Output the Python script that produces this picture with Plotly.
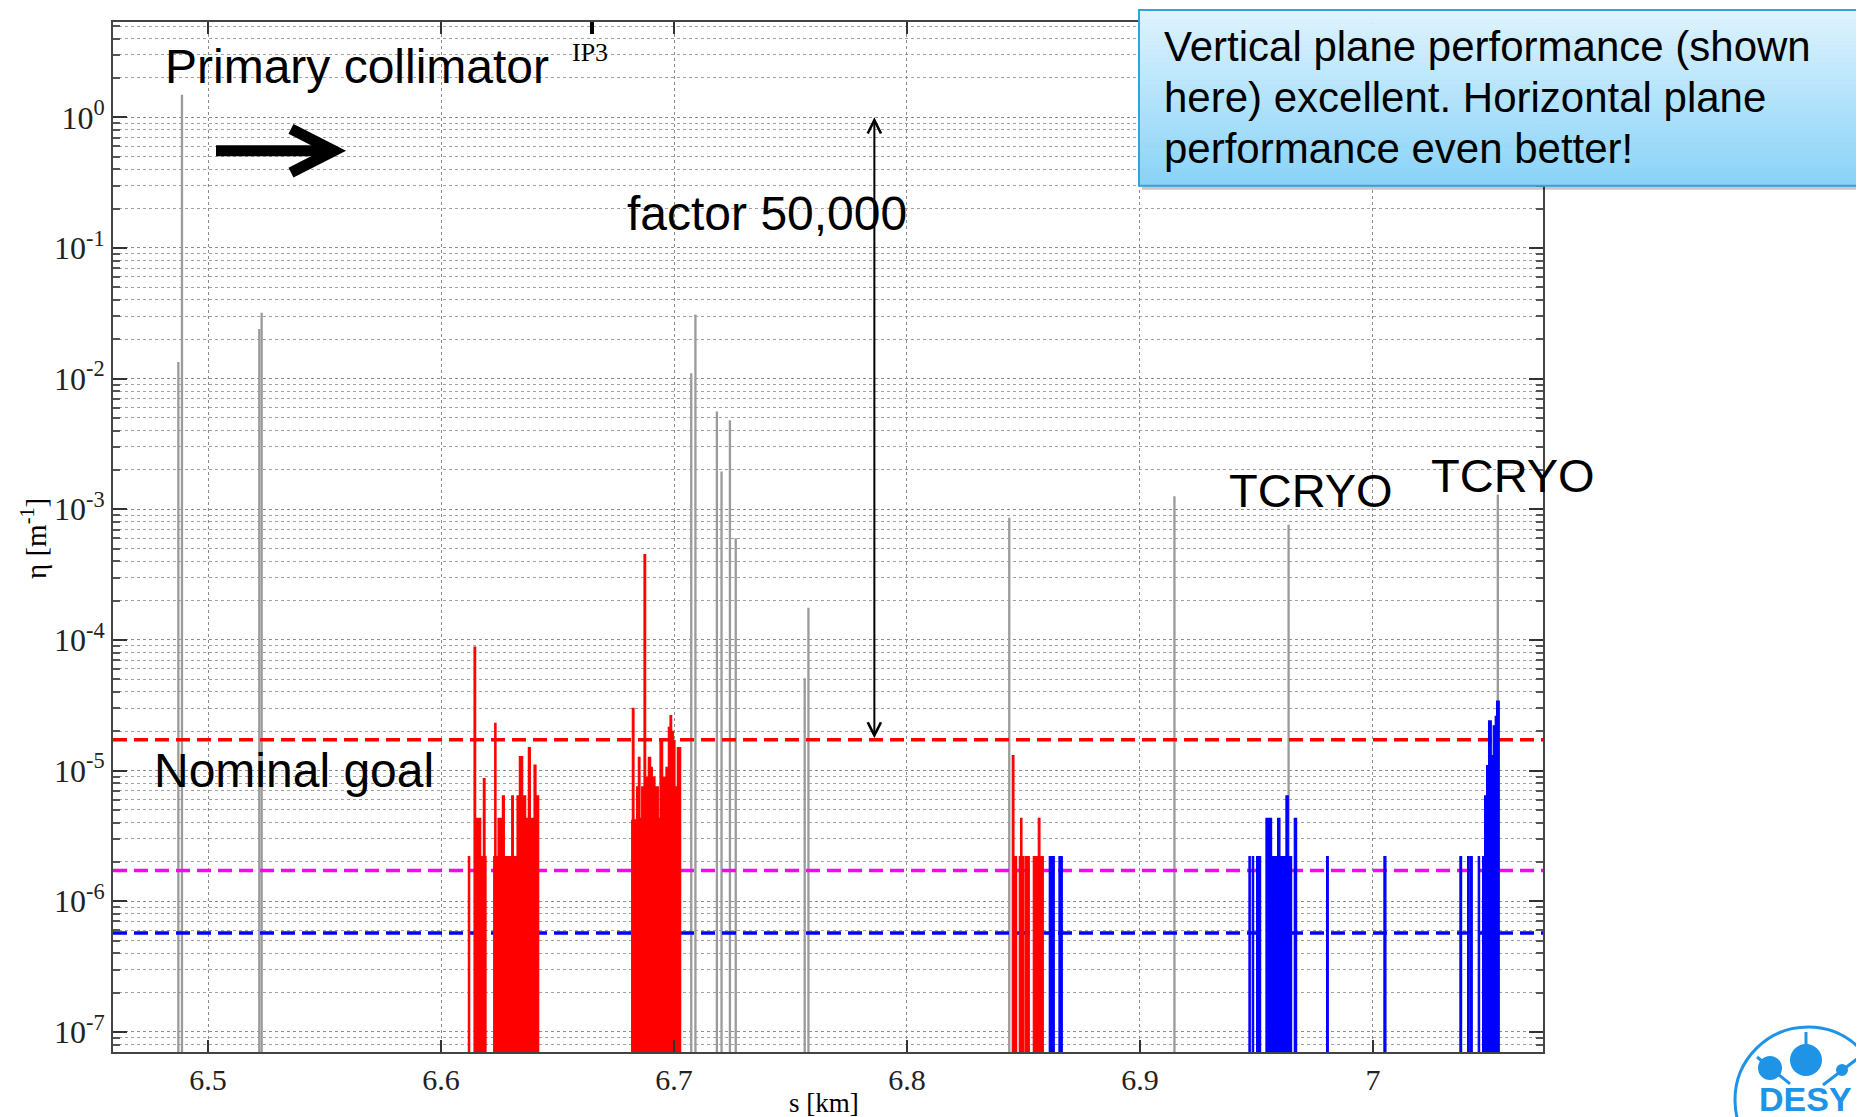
import math
import plotly.graph_objects as go

# ---------------- data ----------------
s_range = [6.4592, 7.0730]          # km
eta_log_range = [-7.154, 0.7296]    # log10(eta)

x_tick_vals = [6.5, 6.6, 6.7, 6.8, 6.9, 7.0]
x_tick_text = ["6.5", "6.6", "6.7", "6.8", "6.9", "7"]
y_tick_exp = [-7, -6, -5, -4, -3, -2, -1, 0]

# red: warm-magnet losses (bins: start, end, eta)
red_s0 = [6.61173, 6.61417, 6.61488, 6.61703, 6.61817, 6.61889,
          6.62261, 6.62303, 6.62361, 6.62447, 6.62633, 6.62718, 6.63033, 6.63105,
          6.63262, 6.63362, 6.63505, 6.63634, 6.63748, 6.63834, 6.63992, 6.64077,
          6.68183, 6.68211, 6.68283, 6.68397, 6.68469, 6.68540, 6.68612, 6.68712,
          6.68784, 6.68898, 6.68998, 6.69070, 6.69184, 6.69327, 6.69399, 6.69513,
          6.69656, 6.69756, 6.69828, 6.69900, 6.69971, 6.70043, 6.70143,
          6.84520, 6.84592, 6.84821, 6.84878, 6.84935, 6.85078, 6.85422, 6.85636, 6.85708]
red_s1 = [6.61231, 6.61488, 6.61703, 6.61817, 6.61889, 6.61932,
          6.62303, 6.62361, 6.62447, 6.62633, 6.62718, 6.63033, 6.63105, 6.63262,
          6.63362, 6.63505, 6.63634, 6.63748, 6.63834, 6.63992, 6.64077, 6.64192,
          6.68211, 6.68283, 6.68397, 6.68469, 6.68540, 6.68612, 6.68712, 6.68784,
          6.68898, 6.68998, 6.69070, 6.69184, 6.69327, 6.69399, 6.69513, 6.69656,
          6.69756, 6.69828, 6.69900, 6.69971, 6.70043, 6.70143, 6.70286,
          6.84592, 6.84706, 6.84878, 6.84935, 6.85021, 6.85250, 6.85636, 6.85708, 6.85851]
red_eta = [2.2e-6, 8.8e-5, 4.3e-6, 2.2e-6, 8.7e-6, 2.2e-6,
           2.2e-6, 2.3e-5, 2.2e-6, 4.3e-6, 6.4e-6, 2.2e-6, 6.4e-6, 2.2e-6,
           6.4e-6, 1.28e-5, 6.4e-6, 4.3e-6, 1.5e-5, 4.3e-6, 1.1e-5, 6.4e-6,
           4.2e-6, 3.0e-5, 4.2e-6, 7.5e-6, 1.26e-5, 4.3e-6, 7.5e-6, 4.5e-4,
           8.9e-6, 1.26e-5, 1.06e-5, 8.9e-6, 7.5e-6, 4.3e-6, 1.7e-5, 8.9e-6,
           1.06e-5, 2.14e-5, 2.63e-5, 2.0e-5, 1.7e-5, 7.5e-6, 1.5e-5,
           1.3e-5, 2.2e-6, 2.2e-6, 4.3e-6, 2.2e-6, 2.2e-6, 2.2e-6, 4.3e-6, 2.2e-6]

# blue: cold-magnet losses
blue_s0 = [6.86108, 6.86523,
           6.94678, 6.94821, 6.95007, 6.95408, 6.95651, 6.95909, 6.96009, 6.96266,
           6.96366, 6.96624, 6.98012, 7.00472,
           7.03734, 7.04063, 7.04192, 7.04521, 7.04707, 7.04793, 7.04879, 7.04964,
           7.05079, 7.05165, 7.05251, 7.05308]
blue_s1 = [6.86323, 6.86666,
           6.94736, 6.94879, 6.95179, 6.95651, 6.95909, 6.96009, 6.96266, 6.96366,
           6.96510, 6.96724, 6.98083, 7.00558,
           7.03806, 7.04135, 7.04263, 7.04578, 7.04793, 7.04879, 7.04964, 7.05079,
           7.05165, 7.05251, 7.05308, 7.05422]
blue_eta = [2.2e-6, 2.2e-6,
            2.2e-6, 2.2e-6, 2.2e-6, 4.3e-6, 2.2e-6, 4.3e-6, 2.2e-6, 6.4e-6,
            2.2e-6, 4.3e-6, 2.2e-6, 2.2e-6,
            2.2e-6, 2.2e-6, 2.2e-6, 2.2e-6, 2.2e-6, 6.4e-6, 1.09e-5, 2.4e-5,
            1.3e-5, 2.2e-5, 2.6e-5, 3.4e-5]

# gray: collimator losses
gray_s = [6.48725, 6.4888, 6.5220, 6.5230, 6.7074, 6.7092, 6.7184, 6.7204,
          6.7240, 6.7265, 6.7561, 6.7577, 6.8439, 6.9148, 6.9638, 7.0536]
gray_eta = [1.34e-2, 1.49, 2.4e-2, 3.2e-2, 1.1e-2, 3.1e-2, 5.6e-3, 1.95e-3,
            4.8e-3, 6.0e-4, 5.1e-5, 1.76e-4, 8.6e-4, 1.26e-3, 7.6e-4, 1.3e-3]

goal_eta = [1.72e-5, 1.72e-6, 5.7e-7]
ip3_s = 6.6648
factor_arrow_s = 6.786
factor_arrow_top = 1.0

# ---------------- styling / layout helpers ----------------
REF_W, REF_H = 1864, 1117
OFF = 8                                   # page body margin
W, H = REF_W - OFF, REF_H - OFF
PL, PR, PT, PB = 113, 1543, 20, 1052      # plot area in page pixels


def fx(x):
    return (x - PL) / (PR - PL)


def fy(y):
    return (PB - y) / (PB - PT)


RED, BLUE, GRAY = "#ff0000", "#0000ff", "#9b9b9b"
GOAL_COLORS = ["#ff0000", "#ff00ff", "#0000ff"]
GRAY_W = 0.001
SERIF = "Liberation Serif"
SANS = "Liberation Sans"
FLOOR = 1e-9   # below the visible axis range: bars rise from the axis bottom


def bins_xy(s0, s1, eta):
    xs, ys = [], []
    for a, b, v in zip(s0, s1, eta):
        xs += [a, a, b, b, None]
        ys += [FLOOR, v, v, FLOOR, None]
    return xs, ys


fig = go.Figure()

for g, c in zip(goal_eta, GOAL_COLORS):
    fig.add_trace(go.Scatter(x=s_range, y=[g, g], mode="lines",
                             line=dict(color=c, width=3.5, dash="14px,7px"),
                             hoverinfo="skip"))

for s0, s1, e, c in [(red_s0, red_s1, red_eta, RED), (blue_s0, blue_s1, blue_eta, BLUE)]:
    xs, ys = bins_xy(s0, s1, e)
    fig.add_trace(go.Scatter(x=xs, y=ys, mode="lines", fill="toself", fillcolor=c,
                             line=dict(color=c, width=1.2), connectgaps=False,
                             hoverinfo="skip"))

fig.add_trace(go.Bar(x=gray_s, y=gray_eta, width=GRAY_W,
                     marker=dict(color=GRAY, line=dict(width=0))))

grid = dict(showgrid=True, gridcolor="#8c8c8c", griddash="dot", gridwidth=1)
minor_vals = [k * 10 ** e for e in range(-8, 1) for k in range(2, 10)]

fig.update_layout(
    width=W, height=H,
    margin=dict(l=PL - OFF, r=REF_W - PR, t=PT - OFF, b=REF_H - PB),
    paper_bgcolor="white", plot_bgcolor="white",
    showlegend=False, barmode="overlay",
    font=dict(family=SERIF, size=29, color="#111111"),
    xaxis=dict(range=s_range, tickmode="array", tickvals=x_tick_vals, ticktext=x_tick_text,
               ticks="inside", ticklen=12, tickwidth=1.5, tickcolor="#333333",
               showline=True, linecolor="#444444", linewidth=2, mirror="ticks",
               zeroline=False, tickfont=dict(family=SERIF, size=30, color="#222222"), **grid),
    yaxis=dict(type="log", range=eta_log_range, tickmode="array",
               tickvals=[10.0 ** e for e in y_tick_exp],
               ticktext=["10<sup>%d</sup>" % e for e in y_tick_exp],
               ticks="inside", ticklen=14, tickwidth=1.5, tickcolor="#333333",
               showline=True, linecolor="#444444", linewidth=2, mirror="ticks",
               zeroline=False, tickfont=dict(family=SERIF, size=32, color="#222222"),
               minor=dict(tickmode="array", tickvals=minor_vals, ticks="inside",
                          ticklen=7, tickcolor="#555555", showgrid=True,
                          gridcolor="#a0a0a0", griddash="dot", gridwidth=1),
               **grid),
)

shapes = []
# IP3 marker at the top axis
shapes.append(dict(type="line", xref="x", yref="paper", x0=ip3_s, x1=ip3_s,
                   y0=1.0, y1=fy(32), line=dict(color="black", width=4)))
# thick arrow next to "Primary collimator"
shapes.append(dict(type="line", xref="paper", yref="paper", x0=fx(216), x1=fx(330),
                   y0=fy(149), y1=fy(149), line=dict(color="black", width=11)))
shapes.append(dict(type="path", xref="paper", yref="paper",
                   path="M %f,%f L %f,%f L %f,%f" % (fx(291), fy(127), fx(334), fy(149),
                                                     fx(291), fy(171)),
                   line=dict(color="black", width=11)))

# call-out box with gradient
bl, bt, br, bb = 1139, 8, 1885, 184
shapes.append(dict(type="rect", xref="paper", yref="paper", x0=fx(bl + 3), x1=fx(br + 3),
                   y0=fy(bb + 4), y1=fy(bt + 4), fillcolor="rgba(0,0,0,0.22)",
                   line=dict(width=0)))
n = 40
c0, c1 = (222, 243, 253), (137, 211, 247)
for i in range(n):
    t = i / (n - 1)
    col = "rgb(%d,%d,%d)" % tuple(round(a + (b - a) * t) for a, b in zip(c0, c1))
    y0 = bt + (bb - bt) * i / n
    y1 = bt + (bb - bt) * (i + 1) / n
    shapes.append(dict(type="rect", xref="paper", yref="paper", x0=fx(bl), x1=fx(br),
                       y0=fy(y1 + 0.5), y1=fy(y0), fillcolor=col, line=dict(width=0)))
shapes.append(dict(type="rect", xref="paper", yref="paper", x0=fx(bl), x1=fx(br),
                   y0=fy(bb), y1=fy(bt), line=dict(color="#2ea4e0", width=2)))

# DESY logo
DB = "#1f93e6"


def circ(cx, cy, r, fill, lw=0):
    return dict(type="circle", xref="paper", yref="paper", x0=fx(cx - r), x1=fx(cx + r),
                y0=fy(cy + r), y1=fy(cy - r), fillcolor=fill,
                line=dict(color=DB, width=lw))


def seg(x0, y0, x1, y1, w=3):
    return dict(type="line", xref="paper", yref="paper", x0=fx(x0), x1=fx(x1),
                y0=fy(y0), y1=fy(y1), line=dict(color=DB, width=w))


shapes.append(circ(1808, 1100, 73, "rgba(0,0,0,0)", 3))
shapes.append(seg(1806, 1032, 1806, 1046))
shapes.append(seg(1757, 1057, 1790, 1084))
shapes.append(seg(1857, 1059, 1823, 1085))
shapes.append(circ(1806, 1060, 16, DB))
shapes.append(circ(1770, 1068, 12, DB))
shapes.append(circ(1842, 1070, 6, DB))

fig.update_layout(shapes=shapes)

ann = []


def txt(x, y, s, size, family=SANS, **kw):
    d = dict(x=fx(x), y=fy(y), xref="paper", yref="paper", text=s, showarrow=False,
             xanchor="center", yanchor="middle",
             font=dict(family=family, size=size, color=kw.pop("color", "black")))
    d.update(kw)
    ann.append(d)


txt(357, 65, "Primary collimator", 48)
txt(590, 51, "IP3", 26, family=SERIF)
txt(767, 212, "factor 50,000", 48)
txt(294, 770, "Nominal goal", 48)
txt(1311, 489, "TCRYO", 47)
txt(1513, 474, "TCRYO", 47)
txt(1162, 45, "Vertical plane performance (shown", 42, xanchor="left")
txt(1162, 96, "here) excellent. Horizontal plane", 42, xanchor="left")
txt(1162, 147, "performance even better!", 42, xanchor="left")
txt(34, 538, "η [m<sup>-1</sup>]", 29, family=SERIF, textangle=-90)
txt(824, 1103, "s [km]", 27, family=SERIF)
txt(1805, 1099, "<b>DESY</b>", 34, color=DB)

# factor 50,000 double arrow (data coordinates)
ann.append(dict(x=factor_arrow_s, y=math.log10(factor_arrow_top), xref="x", yref="y",
                ax=factor_arrow_s, ay=math.log10(goal_eta[0]), axref="x", ayref="y",
                text="", showarrow=True, arrowhead=5, startarrowhead=5,
                arrowside="end+start", arrowwidth=2, arrowsize=1.3, arrowcolor="black",
                standoff=0, startstandoff=0))

fig.update_layout(annotations=ann)

fig.write_html("out.html")
